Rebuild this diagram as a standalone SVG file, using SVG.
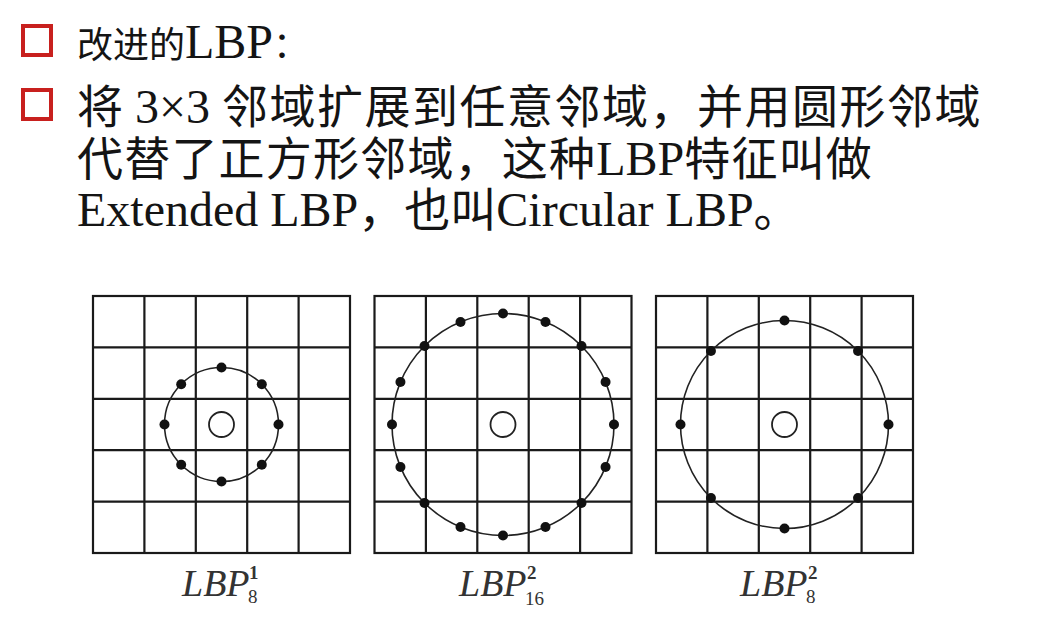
<svg xmlns="http://www.w3.org/2000/svg" width="1047" height="626" viewBox="0 0 1047 626">
<style>
.t{font-family:"Liberation Serif","Noto Sans CJK SC",serif;fill:#141414}
.c{font-family:"Noto Sans CJK SC",sans-serif}
.box{fill:none;stroke:#c8201e;stroke-width:4}
.gl{fill:none;stroke:#1a1a1a;stroke-width:2.2}
.ring{fill:none;stroke:#222;stroke-width:1.6}
.ctr{fill:#fff;stroke:#222;stroke-width:1.8}
.dot{fill:#111}
.cap{font-family:"Liberation Serif",serif;fill:#333}
</style>
<defs>
<g id="grid">
<rect class="gl" x="0" y="0" width="257" height="257"/>
<path class="gl" d="M51.4 0V257M102.8 0V257M154.2 0V257M205.6 0V257M0 51.4H257M0 102.8H257M0 154.2H257M0 205.6H257"/>
</g>
</defs>
<rect width="1047" height="626" fill="#fff"/>
<g id="bullets">
<rect class="box" x="23" y="26" width="28" height="29"/>
<rect class="box" x="23" y="90" width="28" height="29"/>
</g>
<g id="text">
<text class="t" x="77" y="58" font-size="48"><tspan class="c" font-size="36">改进的</tspan>LBP<tspan class="c" font-size="36">：</tspan></text>
<text class="t" x="77" y="123" font-size="48"><tspan class="c" font-size="46">将</tspan> 3×3 <tspan class="c" font-size="46" letter-spacing="1.5">邻域扩展到任意邻域，并用圆形邻域</tspan></text>
<text class="t" x="77" y="175" font-size="48"><tspan class="c" font-size="46" letter-spacing="1.2">代替了正方形邻域，这种</tspan>LBP<tspan class="c" font-size="46" letter-spacing="1.2">特征叫做</tspan></text>
<text class="t" x="77" y="226" font-size="48">Extended LBP<tspan class="c" font-size="46">，也叫</tspan>Circular LBP<tspan class="c" font-size="46">。</tspan></text>
</g>
<g id="panel1">
<use href="#grid" x="93" y="296"/>
<circle class="ring" cx="221.5" cy="424.5" r="57"/>
<circle class="ctr" cx="221.5" cy="424.5" r="12.5"/>
<g class="dot">
<circle cx="278.5" cy="424.5" r="5"/><circle cx="261.8" cy="464.8" r="5"/><circle cx="221.5" cy="481.5" r="5"/><circle cx="181.2" cy="464.8" r="5"/>
<circle cx="164.5" cy="424.5" r="5"/><circle cx="181.2" cy="384.2" r="5"/><circle cx="221.5" cy="367.5" r="5"/><circle cx="261.8" cy="384.2" r="5"/>
</g>
<text class="cap" x="182" y="596" font-size="38" font-style="italic">LBP</text>
<text class="cap" x="249" y="579" font-size="19" font-weight="bold">1</text>
<text class="cap" x="248" y="603" font-size="19">8</text>
</g>
<g id="panel2">
<use href="#grid" x="374.5" y="296"/>
<circle class="ring" cx="503" cy="424.5" r="111"/>
<circle class="ctr" cx="503" cy="424.5" r="12.5"/>
<g class="dot">
<circle cx="614" cy="424.5" r="5"/><circle cx="605.55" cy="466.98" r="5"/><circle cx="581.49" cy="502.99" r="5"/><circle cx="545.48" cy="527.05" r="5"/>
<circle cx="503" cy="535.5" r="5"/><circle cx="460.52" cy="527.05" r="5"/><circle cx="424.51" cy="502.99" r="5"/><circle cx="400.45" cy="466.98" r="5"/>
<circle cx="392" cy="424.5" r="5"/><circle cx="400.45" cy="382.02" r="5"/><circle cx="424.51" cy="346.01" r="5"/><circle cx="460.52" cy="321.95" r="5"/>
<circle cx="503" cy="313.5" r="5"/><circle cx="545.48" cy="321.95" r="5"/><circle cx="581.49" cy="346.01" r="5"/><circle cx="605.55" cy="382.02" r="5"/>
</g>
<text class="cap" x="459" y="596" font-size="38" font-style="italic">LBP</text>
<text class="cap" x="527" y="579" font-size="19" font-weight="bold">2</text>
<text class="cap" x="525" y="605" font-size="19">16</text>
</g>
<g id="panel3">
<use href="#grid" x="656" y="296"/>
<circle class="ring" cx="784.5" cy="424.5" r="104"/>
<circle class="ctr" cx="784.5" cy="424.5" r="12.5"/>
<g class="dot">
<circle cx="888.5" cy="424.5" r="5"/><circle cx="858.04" cy="498.04" r="5"/><circle cx="784.5" cy="528.5" r="5"/><circle cx="710.96" cy="498.04" r="5"/>
<circle cx="680.5" cy="424.5" r="5"/><circle cx="710.96" cy="350.96" r="5"/><circle cx="784.5" cy="320.5" r="5"/><circle cx="858.04" cy="350.96" r="5"/>
</g>
<text class="cap" x="740" y="596" font-size="38" font-style="italic">LBP</text>
<text class="cap" x="808" y="579" font-size="19" font-weight="bold">2</text>
<text class="cap" x="806" y="603" font-size="19">8</text>
</g>
</svg>
